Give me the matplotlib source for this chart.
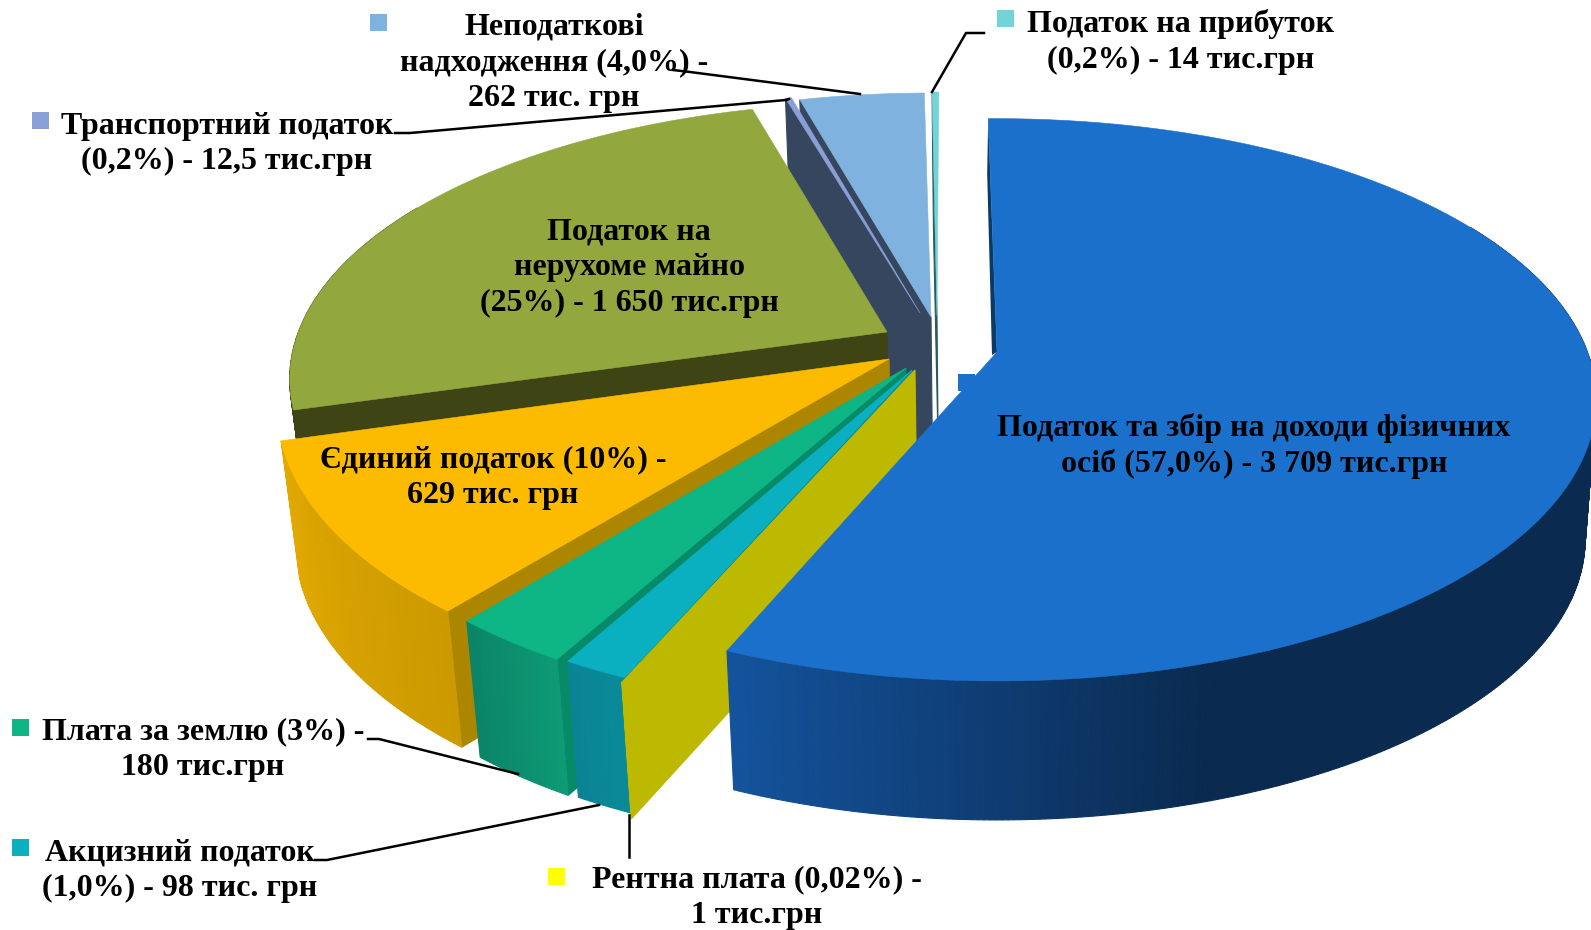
import numpy as np
import matplotlib
matplotlib.use("Agg")
import matplotlib.pyplot as plt
from matplotlib.colors import to_rgb

# values in тис. грн, clockwise from the top
names = ["ПДФО", "Рентна плата", "Акцизний податок", "Плата за землю", "Єдиний податок",
         "Податок на нерухоме майно", "Транспортний податок", "Неподаткові надходження", "Податок на прибуток"]
values = [3709, 1, 98, 180, 629, 1650, 12.5, 262, 14]

labels = ["Податок та збір на доходи фізичних\nосіб (57,0%) - 3 709 тис.грн",
          "Рентна плата (0,02%) -\n1 тис.грн",
          "Акцизний податок\n(1,0%) - 98 тис. грн",
          "Плата за землю (3%) -\n180 тис.грн",
          "Єдиний податок (10%) -\n629 тис. грн",
          "Податок на\nнерухоме майно\n(25%) - 1 650 тис.грн",
          "Транспортний податок\n(0,2%) - 12,5 тис.грн",
          "Неподаткові\nнадходження (4,0%) -\n262 тис. грн",
          "Податок на прибуток\n(0,2%) - 14 тис.грн"]

# look of each slice
top_col = ["#1a70cb", "#bdb900", "#0ab0c0", "#0eb585", "#fdbb00", "#92a83e", "#8a9fd6", "#7fb2de", "#70d4d8"]
face_col = ["#0b2f58", "#bdb900", "#0a8a9a", "#078a68", "#ad8600", "#3f4415", "#36465f", "#36465f", "#2d5a60"]
wall_l = ["#14539c", "#bdb900", "#0a8a9a", "#0e9a75", "#e2a900", "#3f4415", "#36465f", "#36465f", "#2d5a60"]
wall_r = ["#0a2a50", "#bdb900", "#0a8494", "#0b8468", "#cc9a00", "#3f4415", "#36465f", "#36465f", "#2d5a60"]

# explosion of the slices: where each tip sits on the page, and small tweaks of radius and turn
tip_x = [997, 915, 912, 906, 889, 887, 920, 931, 937]
tip_y = [352, 370, 370, 368, 359, 332, 313, 317, 316]
rad_x = [0.96, 1.0, 0.98, 0.97, 0.98, 0.957, 0.95, 0.95, 0.95]
rad_y = [1.0, 1.055, 1.04, 1.05, 1.04, 0.985, 0.95, 0.96, 0.96]
turn = [-1.0, 0.0, 0.0, 0.8, 0.5, 0.4, 0.3, 0.0, 0.2]
depth = [139, 136, 136, 136, 136, 136, 136, 136, 136]

# perspective of the disc
A, B, P = 615.0, 273.0, 0.17
LEAN = 0.026
LEAN_R = 0.018
VP_X = 985

fig = plt.figure(figsize=(15.91, 9.30), dpi=100)
ax = fig.add_axes([0, 0, 1, 1])
ax.set_xlim(0, 1591)
ax.set_ylim(930, 0)
ax.axis("off")


def rim(i, th):
    s, c = np.sin(th), np.cos(th)
    w = 1 + P * c
    return tip_x[i] + rad_x[i] * A * s / w, tip_y[i] - rad_y[i] * B * c / w


def drop(i, x, y):
    lean = np.where(np.asarray(x) > VP_X, LEAN_R, LEAN)
    return x + (VP_X - x) * lean, y + depth[i]


def quad(xs, ys, col, z):
    ax.fill(xs, ys, color=col, lw=0.8, zorder=z)


edges = np.concatenate([[0], np.cumsum(values)]) / sum(values) * 2 * np.pi

z = 1
for i in range(len(values) - 1, -1, -1):
    a0, a1 = edges[i] + np.radians(turn[i]), edges[i + 1] + np.radians(turn[i])
    ths = np.linspace(a0, a1, max(3, int(np.degrees(a1 - a0)) * 2))
    rx, ry = rim(i, ths)
    bx, by = drop(i, rx, ry)
    tx, ty = tip_x[i], tip_y[i]
    btx, bty = drop(i, tx, ty)

    # radial side towards the previous slice
    if i != 0:
        quad([tx, rx[0], bx[0], btx], [ty, ry[0], by[0], bty], face_col[i], z)
    z += 1

    # outer wall, shaded along the page (the back of the disc never shows)
    cl, cr = np.array(to_rgb(wall_l[i])), np.array(to_rgb(wall_r[i]))
    for k in range(len(ths) - 1):
        if np.cos(ths[k]) > 0.5:
            continue
        if i == 0:
            t = np.clip((rx[k] - 730) / 480, 0, 1)
        else:
            t = k / max(1, len(ths) - 2)
            t = 1 - t if i in (4,) else t
        quad([rx[k], rx[k + 1], bx[k + 1], bx[k]], [ry[k], ry[k + 1], by[k + 1], by[k]],
             tuple(cl + (cr - cl) * t), z)
    z += 1

    if i == 0:
        # dark sliver left of the blue slice's back edge
        ax.fill([rx[0], tx, tx - 5, rx[0] - 1], [ry[0], ty, ty + 3, ry[0] + 55],
                color="#0b3a68", lw=0, zorder=z)

    # top surface
    ax.fill(np.r_[tx, rx], np.r_[ty, ry], color=top_col[i], lw=0.4, zorder=z + 1)
    z += 2

# leader lines
leaders = [([673, 690, 860], [70, 72, 94]),
           ([395, 410, 786, 789], [133, 133, 100, 99]),
           ([932, 966, 984], [92, 33, 33]),
           ([368, 379, 518], [739, 739, 774]),
           ([315, 327, 599], [860, 860, 805]),
           ([629, 629], [815, 857])]
for lx, ly in leaders:
    ax.plot(lx, ly, color="black", lw=1.8, zorder=z)

# legend squares
key_x = [958, 548, 12, 12, None, None, 32, 370, 997]
key_y = [374, 868, 839, 719, None, None, 112, 14, 10]
for i in range(len(values)):
    if key_x[i] is not None:
        ax.fill([key_x[i], key_x[i] + 17, key_x[i] + 17, key_x[i]],
                [key_y[i], key_y[i], key_y[i] + 17, key_y[i] + 17],
                color=top_col[i] if i != 1 else "#ffff00", lw=0, zorder=z)

lab_x = [1254, 757, 180, 203, 493, 629, 227, 554, 1181]
lab_y = [446, 898, 871, 750, 478, 268, 144, 63, 42]
for i in range(len(values)):
    ax.text(lab_x[i], lab_y[i], labels[i], family="Liberation Serif", weight="bold",
            fontsize=23, ha="center", va="center", multialignment="center",
            linespacing=1.3, color="black", zorder=z + 1)

fig.savefig("out.png", dpi=100, facecolor="white")
